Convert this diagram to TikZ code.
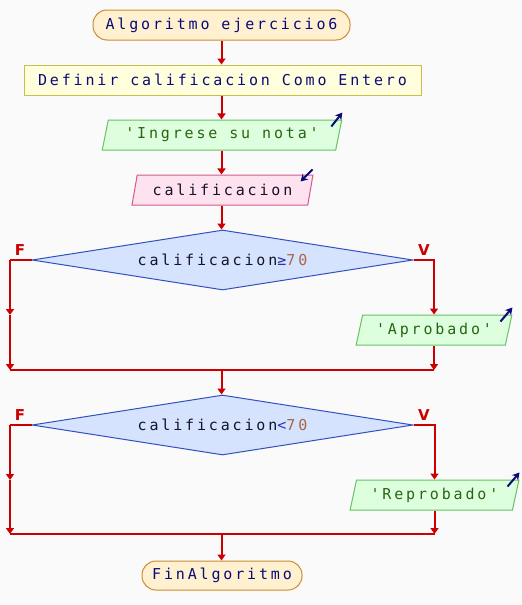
\documentclass[tikz,border=0pt]{standalone}
\usepackage{fontspec}
\usepackage{tikz}
\usetikzlibrary{shapes.geometric, arrows.meta, positioning, calc}
\newfontfamily\psfont[LetterSpace=19]{DejaVu Sans Mono}
\newfontfamily\lblfont{DejaVu Sans}
\definecolor{bgpaper}{RGB}{250,250,250}
\definecolor{flowred}{RGB}{204,0,0}
\definecolor{codenavy}{RGB}{10,10,120}
\definecolor{codeblack}{RGB}{20,20,40}
\definecolor{strgreen}{RGB}{40,100,20}
\definecolor{opblue}{RGB}{50,50,170}
\definecolor{numbrown}{RGB}{170,100,70}
\definecolor{termfill}{RGB}{255,240,208}
\definecolor{termdraw}{RGB}{205,140,50}
\definecolor{deffill}{RGB}{255,255,221}
\definecolor{defdraw}{RGB}{200,190,80}
\definecolor{outfill}{RGB}{221,255,221}
\definecolor{outdraw}{RGB}{100,195,100}
\definecolor{infill}{RGB}{255,226,240}
\definecolor{indraw}{RGB}{210,90,140}
\definecolor{condfill}{RGB}{214,227,255}
\definecolor{conddraw}{RGB}{50,80,190}
\tikzset{
  termbox/.style={rectangle, rounded corners=14pt, draw=termdraw, fill=termfill,
    minimum height=30pt, text=codenavy, line width=1pt, inner sep=0pt},
  defbox/.style={rectangle, draw=defdraw, fill=deffill,
    minimum height=30pt, text=codenavy, line width=1pt, inner sep=0pt},
  outbox/.style={trapezium, trapezium left angle=70, trapezium right angle=110,
    trapezium stretches=true, draw=outdraw, fill=outfill,
    minimum height=30pt, text=strgreen, line width=1pt, inner sep=0pt},
  inbox/.style={trapezium, trapezium left angle=70, trapezium right angle=110,
    trapezium stretches=true, draw=indraw, fill=infill,
    minimum height=30pt, text=codeblack, line width=1pt, inner sep=0pt},
  condbox/.style={diamond, aspect=6.35, draw=conddraw, fill=condfill,
    minimum width=381pt, minimum height=60pt, inner sep=0pt, line width=1pt},
  flow/.style={-{Triangle[width=8pt,length=6pt]}, draw=flowred, line width=2pt},
  line/.style={draw=flowred, line width=2pt},
  ioarrow/.style={-{Stealth[length=7pt,width=8pt]}, draw=codenavy, line width=2pt},
  branchlbl/.style={text=flowred, font=\lblfont\bfseries\fontsize{15}{15}\selectfont}
}

\begin{document}
\begin{tikzpicture}[x=1pt, y=-1pt, font=\psfont\fontsize{15}{17}\selectfont]
  % background and page size
  \fill[bgpaper] (0,0) rectangle (522,605);
  \useasboundingbox (0,0) rectangle (522,605);

  % main column
  \node[termbox, minimum width=257pt] (inicio) at (221.5,25) {Algoritmo ejercicio6};
  \node[defbox, minimum width=397pt] (definir) at (222.5,80) {Definir calificacion Como Entero};
  \node[outbox, minimum width=240pt] (ingrese) at (222,135) {'Ingrese su nota'};
  \node[inbox, minimum width=181pt] (leer) at (222.5,190) {calificacion};

  % first decision
  \node[condbox] (cond1) at (222.5,260)
    {\color{codeblack}calificacion\color{opblue}≥\color{numbrown}70};
  \node[outbox, minimum width=156pt] (aprob) at (434,330) {'Aprobado'};

  % second decision
  \node[condbox] (cond2) at (222.5,425)
    {\color{codeblack}calificacion\color{opblue}<\color{numbrown}70};
  \node[outbox, minimum width=169pt] (reprob) at (434.5,495) {'Reprobado'};

  \node[termbox, minimum width=160pt, minimum height=29pt] (fin) at (222,575.5) {FinAlgoritmo};

  % helper points of the branches
  \coordinate (f1top) at (10,260);
  \coordinate (f1mid) at (10,315);
  \coordinate (join1) at (10,370);
  \coordinate (f2top) at (10,425);
  \coordinate (f2mid) at (10,480);
  \coordinate (join2) at (10,534);

  % straight flow
  \draw[flow] (inicio.south) -- (inicio.south |- definir.north);
  \draw[flow] (inicio.south |- definir.south) -- (inicio.south |- ingrese.north);
  \draw[flow] (inicio.south |- ingrese.south) -- (inicio.south |- leer.north);
  \draw[flow] (inicio.south |- leer.south) -- (inicio.south |- cond1.north);

  % first decision branches
  \draw[line] (cond1.west) -- (f1top);
  \draw[flow] (f1top) -- (f1mid);
  \draw[flow] (f1mid) -- (join1);
  \draw[flow] (cond1.east) -| (aprob.north);
  \draw[flow] (aprob.south) -- (aprob.south |- join1);
  \draw[line] (join1) -- (aprob.south |- join1);
  \draw[flow] (inicio.south |- join1) -- (inicio.south |- cond2.north);
  \node[branchlbl, anchor=south] (lblf1) at (20,259) {F};
  \node[branchlbl, anchor=south] (lblv1) at (424,259) {V};

  % second decision branches
  \draw[line] (cond2.west) -- (f2top);
  \draw[flow] (f2top) -- (f2mid);
  \draw[flow] (f2mid) -- (join2);
  \draw[flow] (cond2.east) -| (reprob.north);
  \draw[flow] (reprob.south) -- (reprob.south |- join2);
  \draw[line] (join2) -- (reprob.south |- join2);
  \draw[flow] (inicio.south |- join2) -- (inicio.south |- fin.north);
  \node[branchlbl, anchor=south] (lblf2) at (20,424) {F};
  \node[branchlbl, anchor=south] (lblv2) at (424,424) {V};

  % input / output marks
  \draw[ioarrow] ($(ingrese.top right corner)+(-11,7)$) -- ($(ingrese.top right corner)+(0,-7)$);
  \draw[ioarrow] ($(leer.top right corner)+(-1,-5)$) -- ($(leer.top right corner)+(-13,7)$);
  \draw[ioarrow] ($(aprob.top right corner)+(-12,7)$) -- ($(aprob.top right corner)+(0,-7)$);
  \draw[ioarrow] ($(reprob.top right corner)+(-12,7)$) -- ($(reprob.top right corner)+(0,-7)$);
\end{tikzpicture}
\end{document}
